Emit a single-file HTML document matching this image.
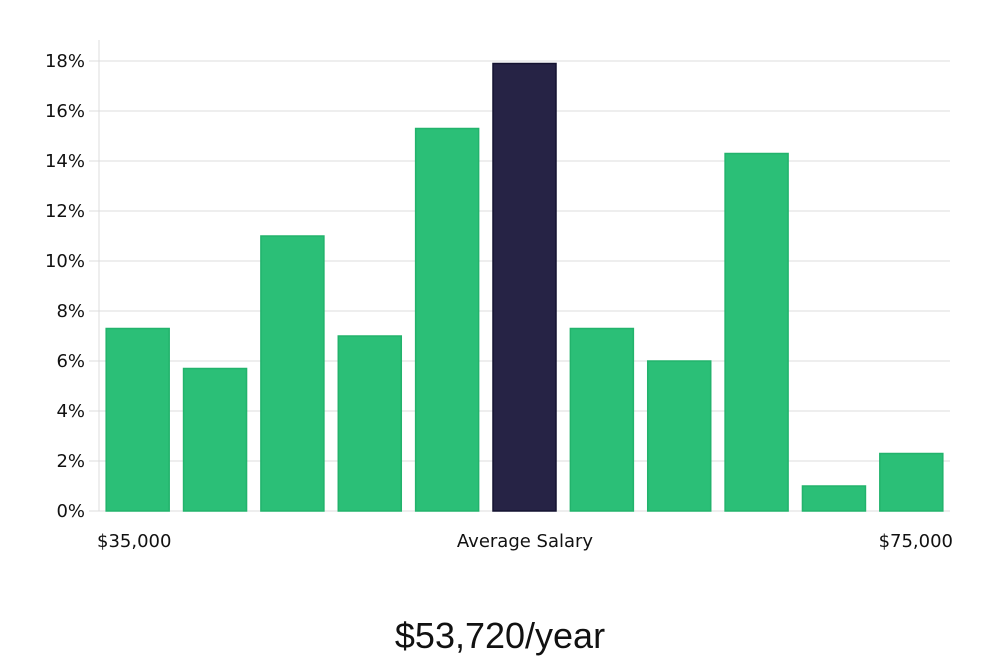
<!DOCTYPE html>
<html><head><meta charset="utf-8"><style>
body{margin:0;background:#fff;width:1000px;height:660px;overflow:hidden}
svg text{font-family:"DejaVu Sans","Liberation Sans",sans-serif}
</style></head><body>
<svg id="chart" width="1000" height="660" xmlns="http://www.w3.org/2000/svg">
<g id="grid"></g>
<g id="bars"></g>
<g id="yaxis"></g>
<text x="97" y="547" font-size="18" fill="#111">$35,000</text>
<text x="525" y="547" font-size="18" fill="#111" text-anchor="middle">Average Salary</text>
<text x="953" y="547" font-size="18" fill="#111" text-anchor="end">$75,000</text>
<text x="500" y="648" font-size="36" fill="#111" text-anchor="middle" style="font-family:'Liberation Sans',sans-serif">$53,720/year</text>
</svg>
<script>
const values=[7.3,5.7,11.0,7.0,15.3,17.9,7.3,6.0,14.3,1.0,2.3];
const highlightIndex=5;
const yTicks=[0,2,4,6,8,10,12,14,16,18];
const NS="http://www.w3.org/2000/svg";
const x0=99,x1=950,y0=511,pxPer=25,step=(x1-x0)/values.length,bw=63;
const yS=v=>y0-v*pxPer;
const xS=i=>x0+i*step+(step-bw)/2;
function mk(t,a,p){const e=document.createElementNS(NS,t);for(const k in a)e.setAttribute(k,a[k]);p.appendChild(e);return e;}
const grid=document.getElementById('grid'),bars=document.getElementById('bars'),ya=document.getElementById('yaxis');
yTicks.forEach(v=>{
 const l=mk('line',{x1:89,x2:x1,y1:yS(v),y2:yS(v),stroke:'#dcdcdc','stroke-width':1},grid);
 
 
 const t=mk('text',{x:85,y:yS(v)+6,'font-size':18,fill:'#111','text-anchor':'end'},ya);
 t.textContent=v+'%';
 
 
});
const ax=mk('line',{x1:x0,x2:x0,y1:40,y2:y0,stroke:'#dcdcdc','stroke-width':1},ya);


values.forEach((v,i)=>{
 const hi=i===highlightIndex;
 const r=mk('rect',{x:xS(i),y:yS(v),width:bw,height:v*pxPer,fill:hi?'#262345':'#2bbf77',stroke:hi?'#141230':'#22b36c','stroke-width':1.5},bars);
 
 
});
</script>
</body></html>
